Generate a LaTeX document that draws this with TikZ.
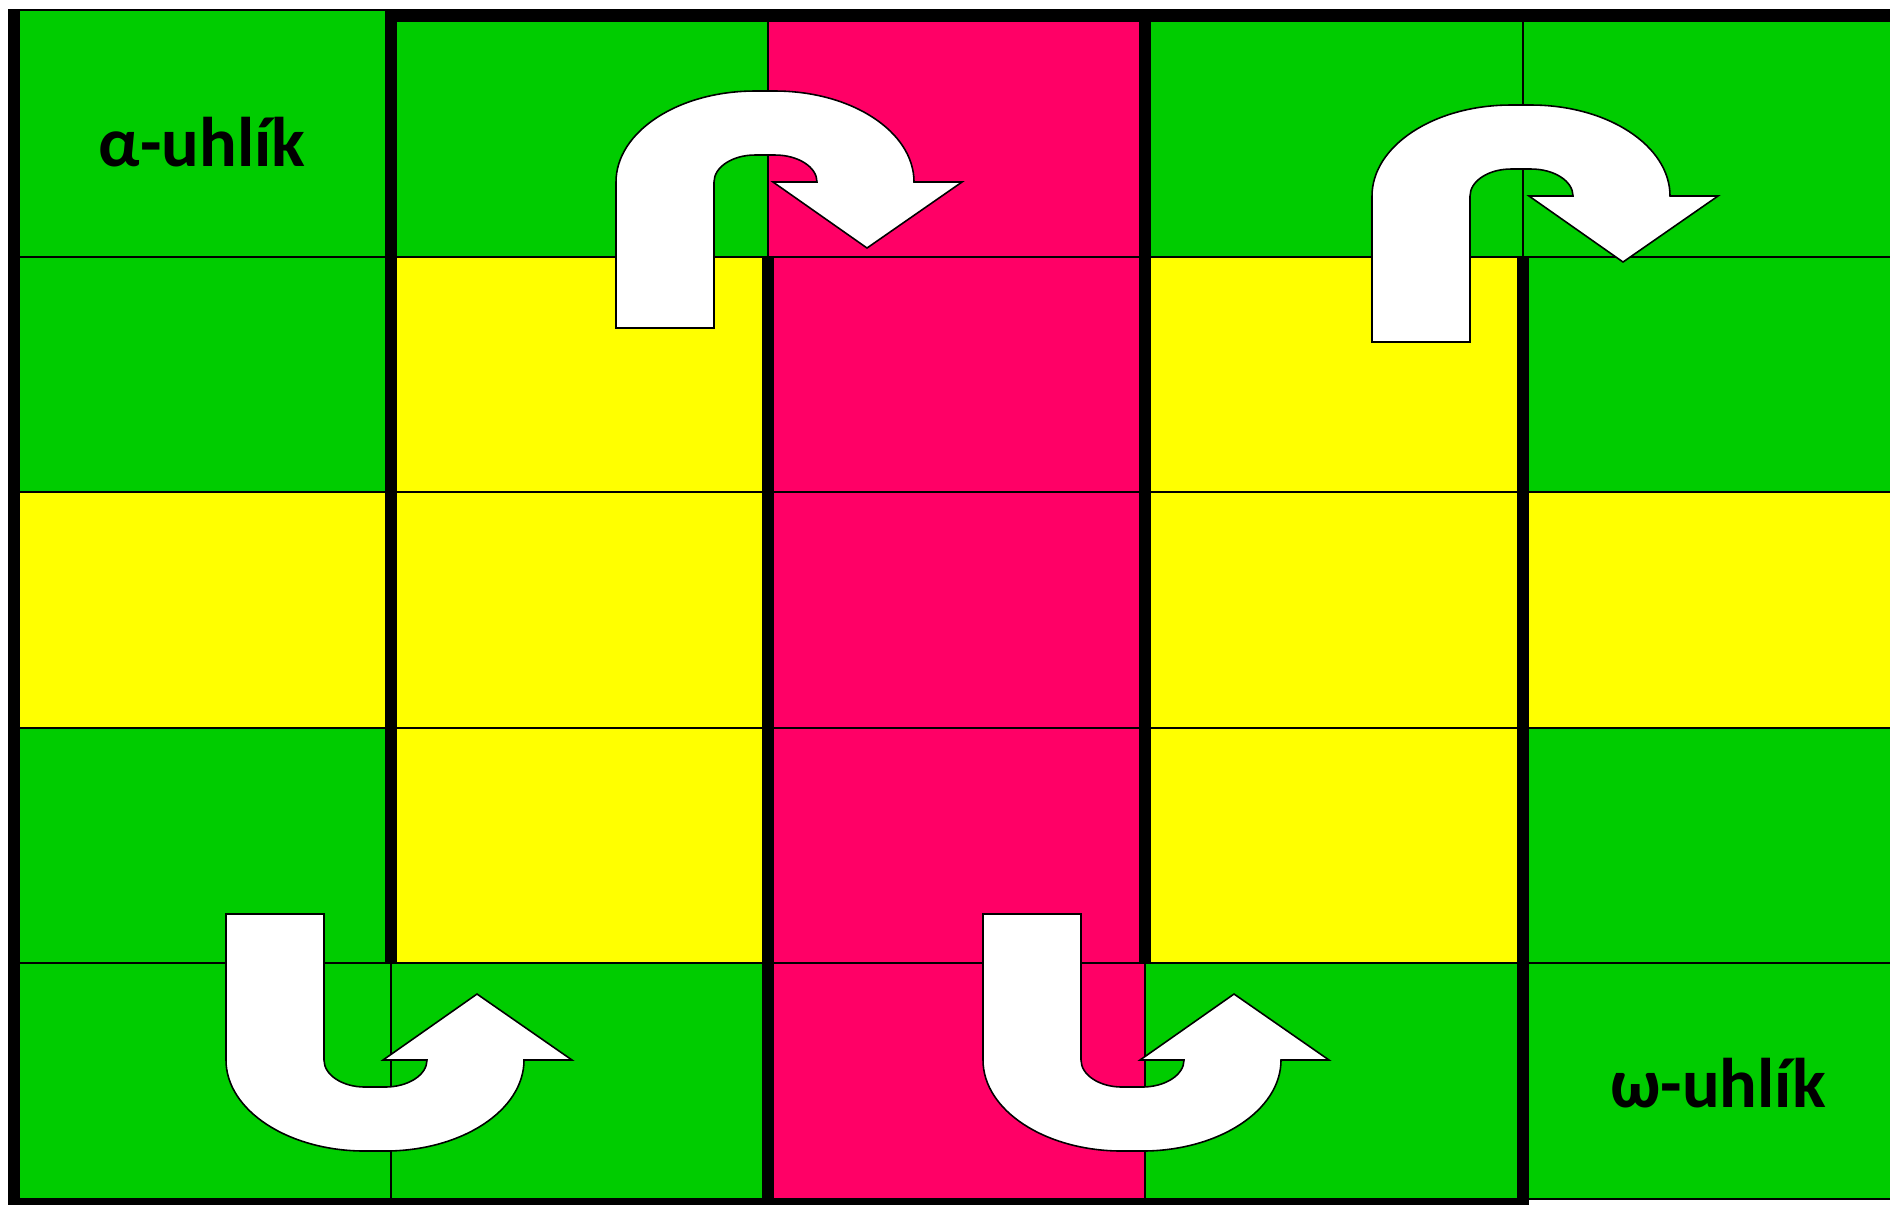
\documentclass[tikz,border=0pt]{standalone}
\usepackage{fontspec}
\setmainfont{Carlito}
\definecolor{leaf}{RGB}{0,204,0}
\definecolor{rose}{RGB}{255,0,102}
\definecolor{lemon}{RGB}{255,255,0}
\tikzset{
  wall/.style={fill=black},
  gridline/.style={black,line width=0.5pt},
  endname/.style={font=\bfseries\fontsize{20}{24}\selectfont,inner sep=0pt},
  uturn arrow/.pic={
    \draw[fill=white,line width=0.45pt,line join=miter]
      (0,146) -- (0,0)
      arc[start angle=180,end angle=270,x radius=139,y radius=91] -- ++(20,0)
      arc[start angle=270,end angle=360,x radius=139,y radius=91]
      -- (346,0) -- (251,66) -- (157,0) -- (201,0)
      arc[start angle=0,end angle=-90,x radius=42,y radius=27] -- ++(-20,0)
      arc[start angle=270,end angle=180,x radius=41,y radius=27]
      -- (98,146) -- cycle;
  }
}
\begin{document}
\begin{tikzpicture}[x=0.1mm,y=-0.1mm]
  \useasboundingbox (0,0) rectangle (1890,1204);
  \clip (0,0) rectangle (1890,1204);
  % cell colours
  \fill[leaf] (8,10) rectangle (1900,1199);
  \fill[lemon] (8,492) rectangle (1900,728);
  \fill[lemon] (391,257) rectangle (768,963);
  \fill[lemon] (1145,257) rectangle (1523,963);
  \fill[rose] (768,10) rectangle (1145,1199);
  % thin borders
  \foreach \y in {10,257,492,728,963,1199}
    \draw[gridline] (8,\y) -- (1900,\y);
  \foreach \x in {391,768,1145,1523}
    \draw[gridline] (\x,10) -- (\x,1199);
  % thick walls
  \fill[wall] (8,10) rectangle (20,1215);
  \fill[wall] (385,10) rectangle (1900,22);
  \fill[wall] (8,1199) rectangle (1529,1215);
  \fill[wall] (385,10) rectangle (397,963);
  \fill[wall] (762,257) rectangle (774,1215);
  \fill[wall] (1139,10) rectangle (1151,963);
  \fill[wall] (1517,257) rectangle (1529,1215);
  % turns
  \pic (turnA) at (616,182) {uturn arrow};
  \pic (turnB) at (1372,196) {uturn arrow};
  \pic[yscale=-1] (turnC) at (226,1060) {uturn arrow};
  \pic[yscale=-1] (turnD) at (983,1060) {uturn arrow};
  % ends of the chain
  \node[endname,anchor=base] (alpha) at (202,166) {α-uhlík};
  \node[endname,anchor=base] (omega) at (1718,1107) {ω-uhlík};
\end{tikzpicture}
\end{document}
